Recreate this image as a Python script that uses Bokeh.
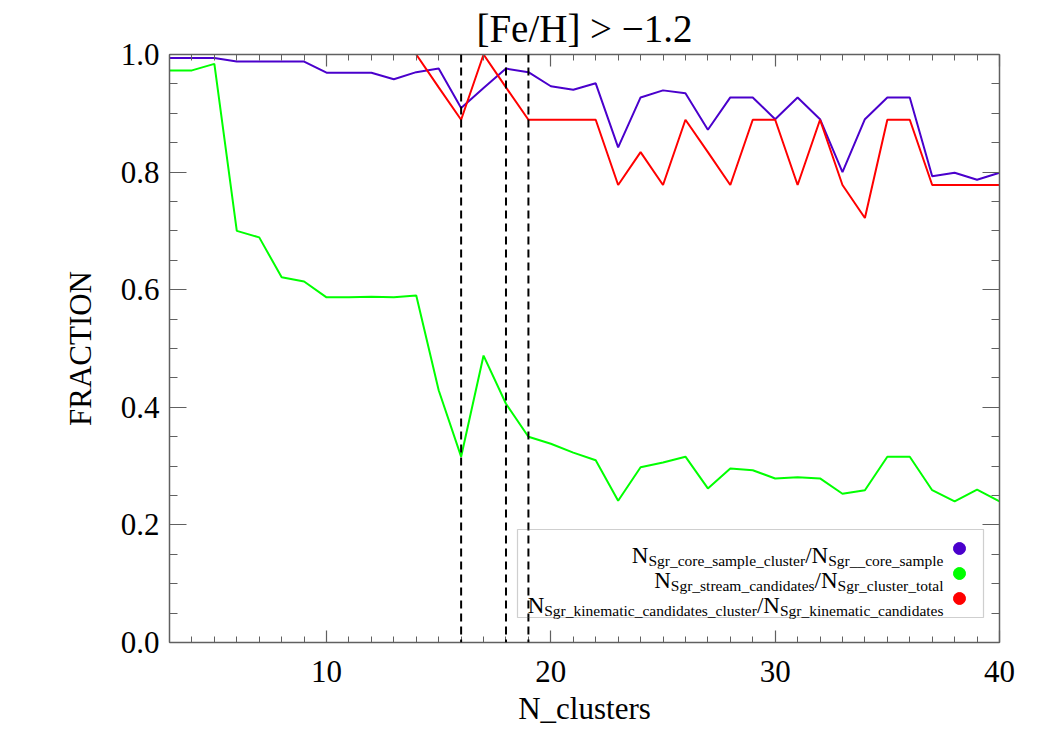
from bokeh.plotting import figure
from bokeh.models import (Range1d, LinearAxis, SingleIntervalTicker, NumeralTickFormatter,
                          CustomJSTickFormatter, Label, Span, BoxAnnotation)
from bokeh.embed import file_html
from bokeh.resources import INLINE

# ---- data ----
n_clusters = list(range(3, 41))
frac_core = [0.994, 0.994, 0.994, 0.988, 0.988, 0.988, 0.988, 0.969, 0.969, 0.969,
             0.958, 0.970, 0.976, 0.909, 0.943, 0.976, 0.970, 0.946, 0.940, 0.951,
             0.842, 0.927, 0.939, 0.934, 0.872, 0.927, 0.927, 0.890, 0.927, 0.890,
             0.800, 0.890, 0.927, 0.927, 0.793, 0.799, 0.787, 0.799]
frac_stream = [0.973, 0.973, 0.984, 0.700, 0.689, 0.621, 0.614, 0.587, 0.587, 0.588,
               0.587, 0.590, 0.429, 0.316, 0.488, 0.406, 0.350, 0.338, 0.323, 0.310,
               0.241, 0.298, 0.306, 0.316, 0.262, 0.296, 0.293, 0.279, 0.281, 0.279,
               0.253, 0.259, 0.316, 0.316, 0.259, 0.240, 0.260, 0.240]
n_clusters_kin = list(range(14, 41))
frac_kin = [1.000, 0.944, 0.889, 1.000, 0.944, 0.889, 0.889, 0.889, 0.889, 0.778,
            0.834, 0.778, 0.889, 0.834, 0.778, 0.889, 0.889, 0.778, 0.889, 0.778,
            0.722, 0.889, 0.889, 0.778, 0.778, 0.778, 0.778]
vlines = [16, 18, 19]
title_text = "[Fe/H] > \u22121.2"
legend_rows = [
    ("Sgr_core_sample_cluster", "Sgr__core_sample", "#4a00cc"),
    ("Sgr_stream_candidates", "Sgr_cluster_total", "#00ff00"),
    ("Sgr_kinematic_candidates_cluster", "Sgr_kinematic_candidates", "#ff0000"),
]

# ---- layout ----
W, H = 1050, 750
FL, FR, FT, FB = 169, 999, 54, 642
XL, XR, YB, YT = 3, 40, 0.0, 1.0
FONT = "Liberation Serif"
AX = "#606060"

def px_x(px):
    return XL + (px - FL) / (FR - FL) * (XR - XL)

def px_y(py):
    return YB + (FB - py) / (FB - FT) * (YT - YB)

p = figure(width=W, height=H, x_range=Range1d(XL, XR), y_range=Range1d(YB, YT),
           output_backend="svg", toolbar_location=None,
           min_border_left=FL, min_border_right=W - FR,
           min_border_top=FT, min_border_bottom=H - FB,
           x_axis_label="N_clusters", y_axis_label="FRACTION")
p.xgrid.visible = False
p.ygrid.visible = False
p.outline_line_color = None
p.background_fill_color = "white"
p.border_fill_color = "white"

p.title.text = title_text
p.title.align = "center"
p.title.text_font = FONT
p.title.text_font_size = "39px"
p.title.text_font_style = "normal"
p.title.text_color = "black"
p.title.standoff = 9

def style(ax, horiz, labels=True):
    ax.axis_line_color = AX
    ax.axis_line_width = 1.5
    ax.major_tick_line_color = AX
    ax.minor_tick_line_color = AX
    ax.major_tick_line_width = 1.2
    ax.minor_tick_line_width = 1.0
    ax.major_tick_out = 0
    ax.minor_tick_out = 0
    ax.major_tick_in = 12 if horiz else 17
    ax.minor_tick_in = 6 if horiz else 8
    if labels:
        ax.major_label_text_font = FONT
        ax.major_label_text_font_size = "31px"
        ax.major_label_text_color = "black"
        ax.axis_label_text_font = FONT
        ax.axis_label_text_font_size = "31px"
        ax.axis_label_text_font_style = "normal"
        ax.axis_label_text_color = "black"
    else:
        ax.formatter = CustomJSTickFormatter(code="return ''")
        ax.major_label_text_font_size = "1px"
        ax.major_label_standoff = 0
        ax.axis_label = None

p.xaxis.ticker = SingleIntervalTicker(interval=10, num_minor_ticks=10)
p.yaxis.ticker = SingleIntervalTicker(interval=0.2, num_minor_ticks=4)
p.yaxis.formatter = NumeralTickFormatter(format="0.0")
style(p.xaxis[0], True)
style(p.yaxis[0], False)
p.xaxis.major_label_standoff = 18
p.xaxis.axis_label_standoff = 6
p.yaxis.major_label_standoff = 10
p.yaxis.axis_label_standoff = 20

top = LinearAxis(ticker=SingleIntervalTicker(interval=10, num_minor_ticks=10))
right = LinearAxis(ticker=SingleIntervalTicker(interval=0.2, num_minor_ticks=4))
style(top, True, labels=False)
style(right, False, labels=False)
p.add_layout(top, "above")
p.add_layout(right, "right")

# ---- data lines ----
p.line(n_clusters, frac_core, line_color="#4a00cc", line_width=2)
p.line(n_clusters, frac_stream, line_color="#00ff00", line_width=2)
p.line(n_clusters_kin, frac_kin, line_color="#ff0000", line_width=2)

for v in vlines:
    p.add_layout(Span(location=v, dimension="height", line_color="black",
                      line_width=2, line_dash="8 5"))

# ---- legend ----
TIMES = {'N': 0.722, 'S': 0.556, 'g': 0.5, 'r': 0.333, '_': 0.5, 'c': 0.444, 'o': 0.5,
         'e': 0.444, 's': 0.389, 'a': 0.444, 'm': 0.778, 'p': 0.5, 'l': 0.278, 'u': 0.5,
         't': 0.278, '/': 0.278, 'd': 0.5, 'i': 0.278, 'n': 0.5, 'k': 0.5}

def tw(s, size):
    return sum(TIMES.get(c, 0.5) for c in s) * size

BIG, SMALL = 23, 15.5
TEXT_RIGHT = 943
p.add_layout(BoxAnnotation(left=px_x(517), right=px_x(983), top=px_y(529), bottom=px_y(617),
                           fill_color=None, line_color=AX, line_width=1.2))
base0 = 555
for i, (sub1, sub2, col) in enumerate(legend_rows):
    base = base0 + 25 * i
    pieces = [("N", BIG, 0), (sub1, SMALL, 5), ("/", BIG, 0), ("N", BIG, 0), (sub2, SMALL, 5)]
    total = sum(tw(s, sz) for s, sz, _ in pieces)
    cur = TEXT_RIGHT - total
    for s, sz, dy in pieces:
        p.add_layout(Label(x=px_x(cur), y=px_y(base + dy), text=s, text_font=FONT,
                           text_font_size=f"{sz}px", text_color="black",
                           text_align="left", text_baseline="alphabetic"))
        cur += tw(s, sz)
    p.scatter([px_x(959)], [px_y(base - 7)], size=12, color=col, line_color=col)

open("out.html", "w").write(file_html(p, INLINE))
